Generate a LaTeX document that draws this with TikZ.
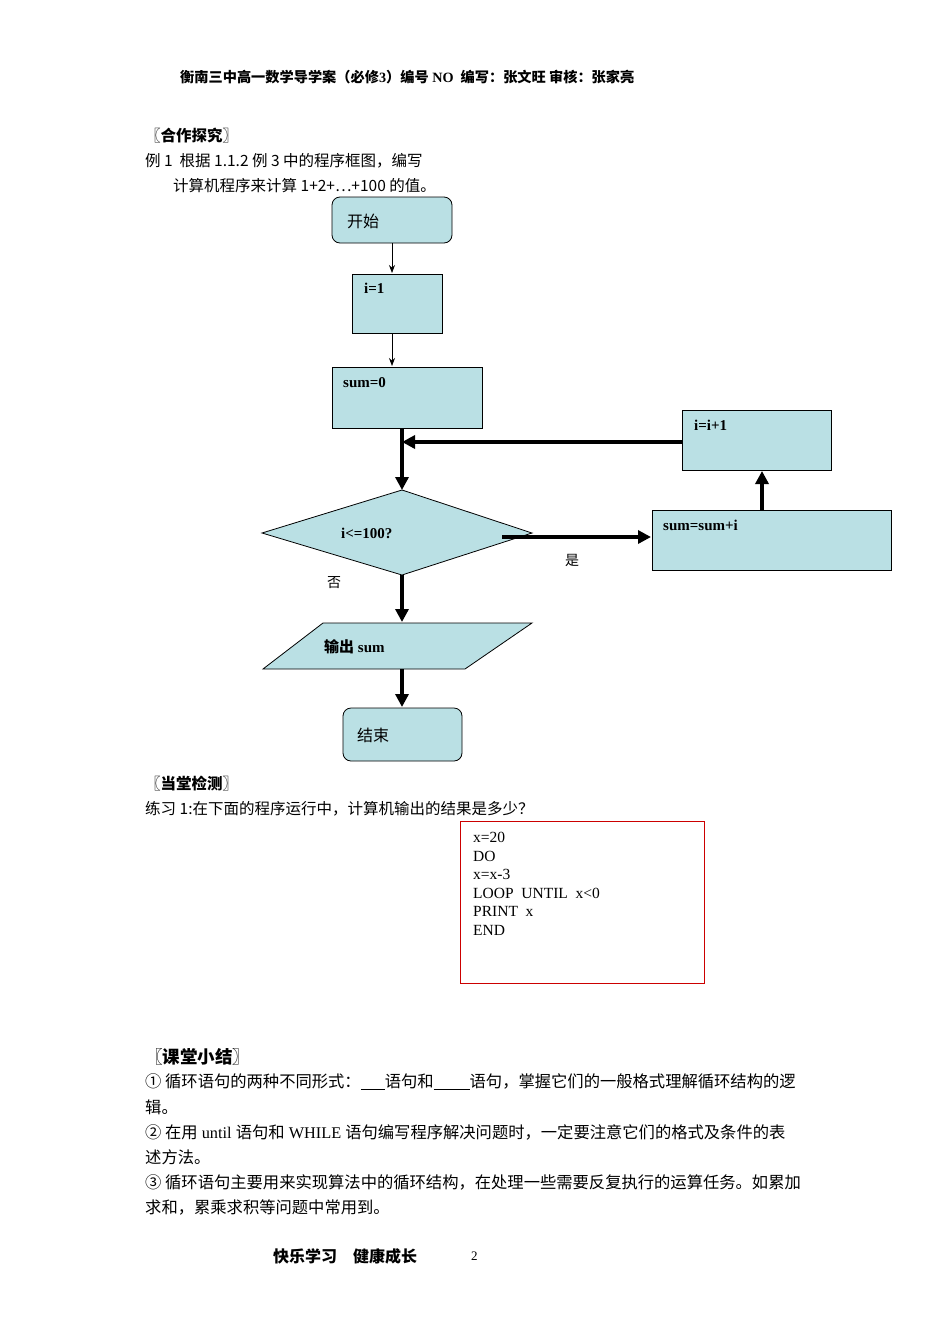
\documentclass[tikz,border=0pt]{standalone}
\usepackage{fontspec}
\setmainfont{Liberation Serif}
\newfontfamily\cjk{Noto Sans CJK SC}
\usetikzlibrary{arrows.meta}
\definecolor{fc}{HTML}{BAE0E4}
\tikzset{
 boxs/.style={draw,fill=fc,line width=0.8pt},
 lbl/.style={anchor=west,font=\bfseries\fontsize{15}{15}\selectfont,inner sep=0},
 txt/.style={anchor=west,inner sep=0,font=\fontsize{15}{15}\selectfont},
 sumt/.style={anchor=west,inner sep=0,font=\fontsize{16.3}{16}\selectfont},
 thin/.style={-{Stealth[length=8pt,width=6pt]},line width=0.7pt},
 thk/.style={-{Triangle[length=13pt,width=13pt]},line width=4pt},
}
\begin{document}
\begin{tikzpicture}[x=1pt,y=-1pt]
\useasboundingbox (0,0) rectangle (950,1344);
\node[txt,font=\bfseries\fontsize{14.2}{14}\selectfont] (hd) at (180,77) {\cjk 衡南三中高一数学导学案（必修\rmfamily\bfseries 3\cjk）编号\rmfamily\bfseries{} NO\ \ \cjk 编写：张文旺 审核：张家亮};
\node[txt,font=\fontsize{15.5}{15}\selectfont] (h1) at (145,136) {\cjk\bfseries 〖合作探究〗};
\node[txt,font=\fontsize{15.5}{15}\selectfont] (l1) at (145,161) {\cjk 例 1\ \ 根据 1.1.2 例 3 中的程序框图，编写};
\node[txt,font=\fontsize{15.5}{15}\selectfont] (l2) at (173,186) {\cjk 计算机程序来计算 1+2+⋯+100 的值。};
% flowchart
\draw[boxs,rounded corners=8pt] (332,197) rectangle (452,243);
\node[txt,font=\fontsize{16}{16}\selectfont] (st) at (347,221) {\cjk 开始};
\coordinate (stb) at (392,243);
\draw[boxs] (352,274) rectangle (442,333);
\node[lbl] (i1) at (364,288) {i=1};
\draw[thin] (stb) -- (392,273);
\draw[boxs] (332,367) rectangle (482,428);
\node[lbl] (s0) at (343,383) {sum=0};
\draw[thin] (392,333) -- (392,366);
\draw[boxs] (682,410) rectangle (831,470);
\node[lbl] (ii) at (694,425) {i=i+1};
\draw[boxs] (262,533) -- (402,490) -- (532,533) -- (402,575) -- cycle;
\node[lbl] (dq) at (341,533) {i<=100?};
\draw[boxs] (652,510) rectangle (891,570);
\node[lbl] (ss) at (663,525) {sum=sum+i};
\draw[thk] (402,428) -- (402,490);
\draw[thk] (682,442) -- (402,442);
\draw[thk] (502,537) -- (651,537);
\draw[thk] (762,510) -- (762,471);
\node[txt,font=\fontsize{14}{14}\selectfont] (yes) at (565,560) {\cjk 是};
\node[txt,font=\fontsize{14}{14}\selectfont] (no) at (327,583) {\cjk 否};
\draw[boxs] (263,669) -- (323,623) -- (532,623) -- (465,669) -- cycle;
\node[lbl] (out) at (324,647) {\cjk 输出\rmfamily\bfseries{} sum};
\draw[thk] (402,575) -- (402,622);
\draw[boxs,rounded corners=8pt] (343,708) rectangle (462,761);
\node[txt,font=\fontsize{16}{16}\selectfont] (en) at (357,735) {\cjk 结束};
\draw[thk] (402,669) -- (402,707);
% test
\node[txt,font=\fontsize{15.5}{15}\selectfont] (h2) at (145,784) {\cjk\bfseries 〖当堂检测〗};
\node[txt,font=\fontsize{15.5}{15}\selectfont] (l3) at (145,809) {\cjk 练习 1:在下面的程序运行中，计算机输出的结果是多少？};
\draw[red!80!black,line width=0.8pt] (460,821) rectangle (704,983);
\node[txt,anchor=north west,align=left,font=\fontsize{15.5}{18.6}\selectfont] (code) at (473,832) {x=20\\DO\\x=x-3\\LOOP\ \ UNTIL\ \ x<0\\PRINT\ \ x\\END};
% summary
\node[txt,font=\fontsize{17.5}{17}\selectfont] (h3) at (145,1057) {\cjk\bfseries 〖课堂小结〗};
\node[sumt] (m1) at (145,1082) {\cjk ① 循环语句的两种不同形式：\rule[-2pt]{24pt}{0.6pt}语句和\rule[-2pt]{36pt}{0.6pt}语句，掌握它们的一般格式理解循环结构的逻};
\node[sumt] (m2) at (145,1107) {\cjk 辑。};
\node[sumt] (m3) at (145,1132) {\cjk ② 在用\rmfamily{} until \cjk 语句和\rmfamily{} WHILE \cjk 语句编写程序解决问题时，一定要注意它们的格式及条件的表};
\node[sumt] (m4) at (145,1157) {\cjk 述方法。};
\node[sumt] (m5) at (145,1182) {\cjk ③ 循环语句主要用来实现算法中的循环结构，在处理一些需要反复执行的运算任务。如累加};
\node[sumt] (m6) at (145,1207) {\cjk 求和，累乘求积等问题中常用到。};
\node[txt,font=\fontsize{16}{16}\selectfont] (ft) at (273,1256) {\cjk\bfseries 快乐学习\quad 健康成长};
\node[txt,font=\fontsize{13}{13}\selectfont] (pg) at (471,1256) {2};
\end{tikzpicture}
\end{document}
